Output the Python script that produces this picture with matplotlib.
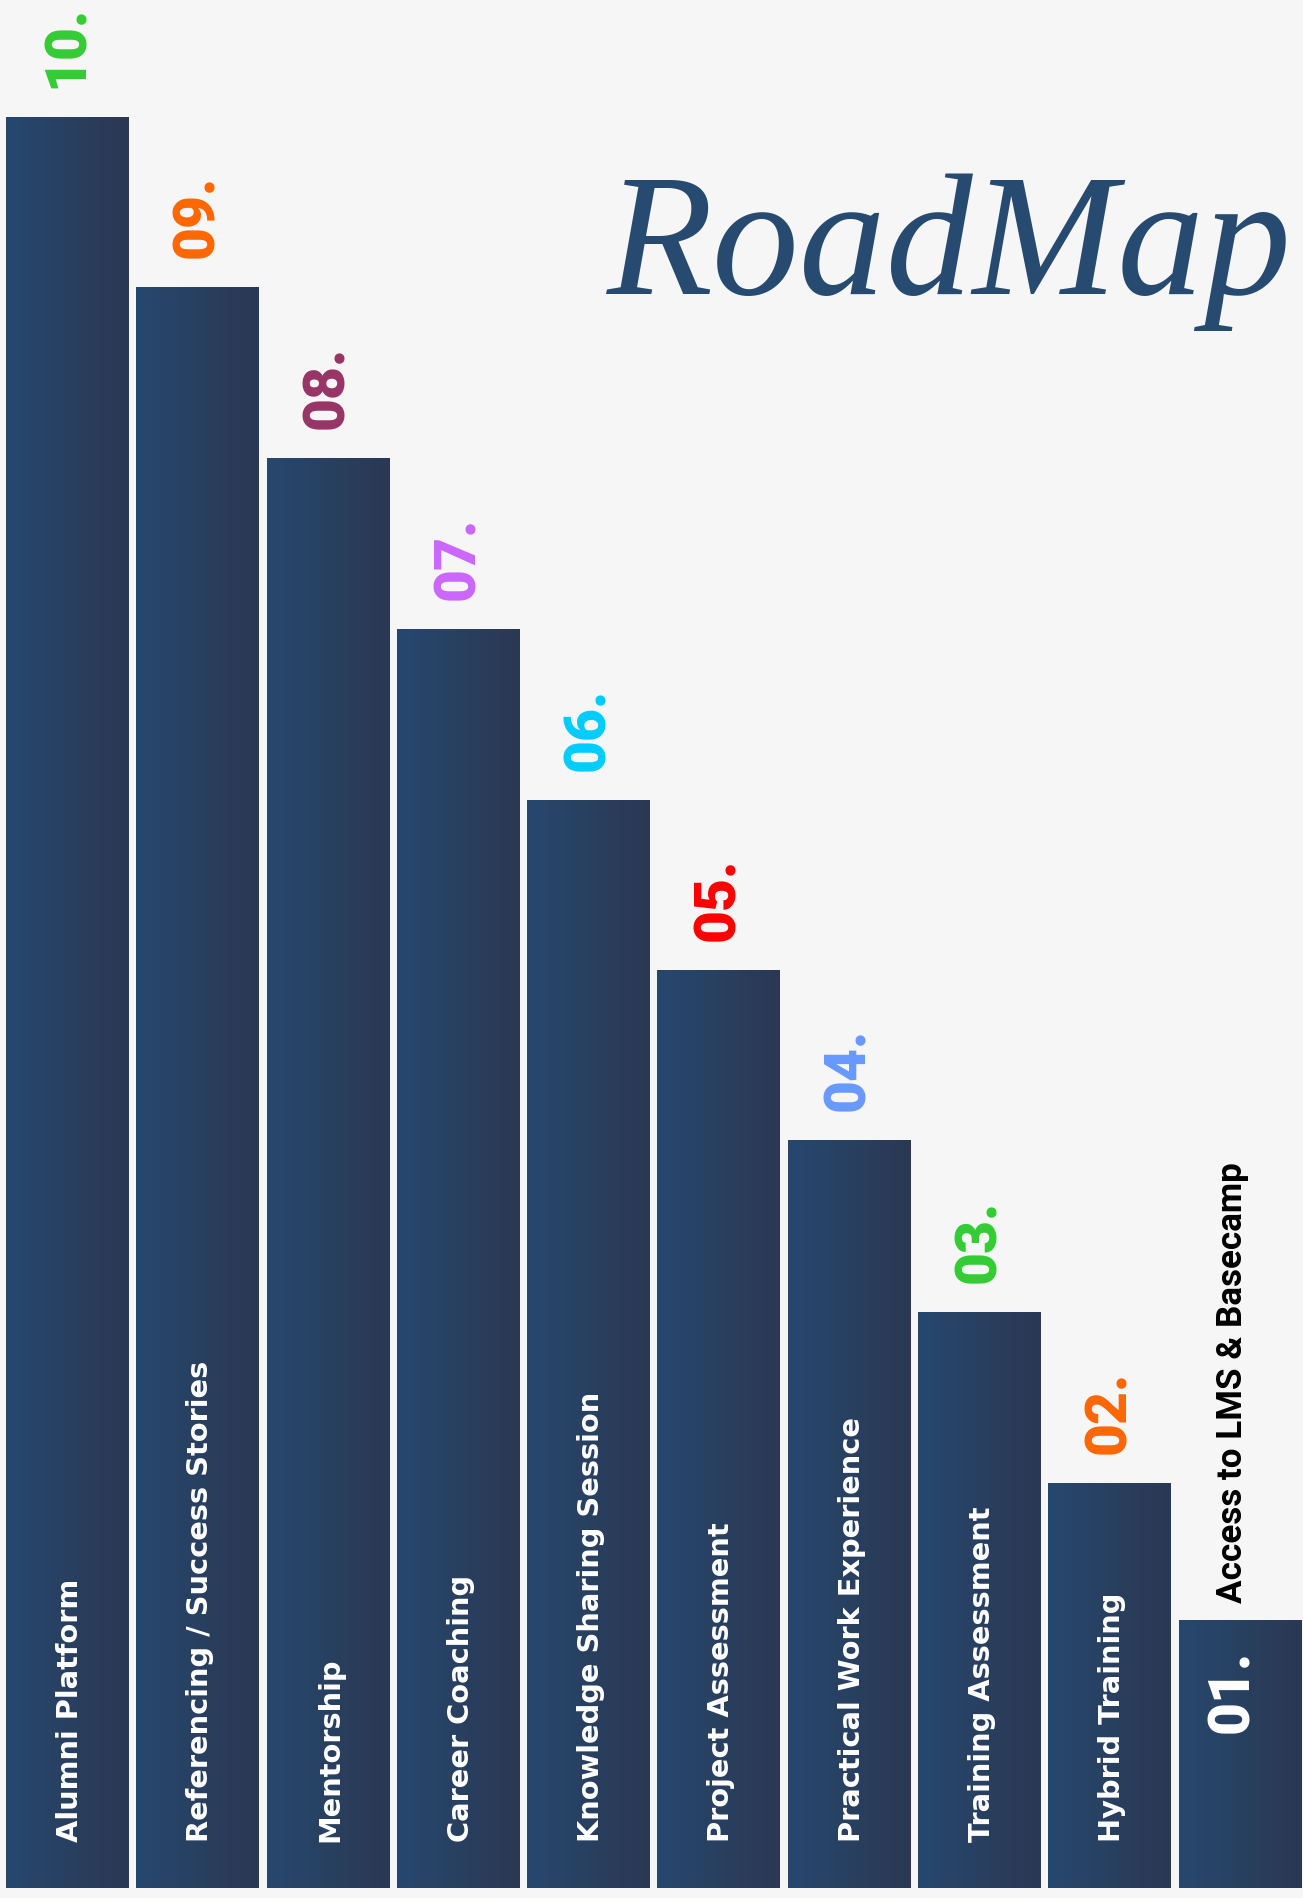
import matplotlib
matplotlib.use("Agg")
import matplotlib.pyplot as plt
import numpy as np
from matplotlib.colors import LinearSegmentedColormap

# ---- data ----
categories = ["Alumni Platform", "Referencing / Success Stories", "Mentorship",
              "Career Coaching", "Knowledge Sharing Session", "Project Assessment",
              "Practical Work Experience", "Training Assessment", "Hybrid Training",
              "Access to LMS & Basecamp"]
step_labels = ["10.", "09.", "08.", "07.", "06.", "05.", "04.", "03.", "02.", "01."]
heights = [1463, 1323, 1182, 1040, 899, 759, 618, 476, 335, 222]
label_colors = ["#33cc33", "#ff6600", "#993366", "#cc66ff", "#00ccff",
                "#ff0000", "#6699ff", "#33cc33", "#ff6600", "#ffffff"]
title = "RoadMap"

BG = "#f6f6f6"
fig = plt.figure(figsize=(13.03, 18.98), dpi=100, facecolor=BG)
ax = fig.add_axes([0, 0, 1, 1])
ax.set_facecolor(BG)
ax.axis("off")

x = np.arange(len(categories))
bars = ax.bar(x, heights, width=0.94, color="#283f60", zorder=2)

cmap = LinearSegmentedColormap.from_list("g", ["#26486e", "#2b3853"])
grad = np.linspace(0, 1, 256).reshape(1, -1)
for b in bars:
    x0, y0 = b.get_x(), b.get_y()
    w, h = b.get_width(), b.get_height()
    im = ax.imshow(grad, cmap=cmap, extent=(x0, x0 + w, y0, y0 + h),
                   aspect="auto", zorder=3, interpolation="bilinear")
    im.set_clip_path(b)

ax.set_xlim(-0.516, 9.484)
ax.set_ylim(-8, 1560)

num_font = ["Roboto", "DejaVu Sans"]
lab_font = ["DejaVu Sans"]

for i, (cat, lab, h, c) in enumerate(zip(categories, step_labels, heights, label_colors)):
    if i < len(categories) - 1:
        ax.text(x[i], h + 24, lab, rotation=90, ha="center", va="bottom",
                color=c, fontsize=41, fontweight="black", family=num_font, zorder=5)
        ax.text(x[i] + 0.02, 38, cat, rotation=90, ha="center", va="bottom",
                color="white", fontsize=20.8, fontweight="bold", family=lab_font, zorder=5)
    else:
        ax.text(x[i] - 0.055, 128, lab, rotation=90, ha="center", va="bottom",
                color=c, fontsize=41, fontweight="black", family=num_font, zorder=5)
        ax.text(x[i] - 0.055, h + 14, cat, rotation=90, ha="center", va="bottom",
                color="black", fontsize=25.2, fontweight="bold",
                family=["Roboto", "DejaVu Sans"], zorder=5)

fig.text(0.466, 0.845, title, ha="left", va="baseline", color="#264a70",
         fontsize=125, style="italic",
         family=["Liberation Serif", "DejaVu Serif"], zorder=1)

fig.savefig("out.png", dpi=100, facecolor=BG)
